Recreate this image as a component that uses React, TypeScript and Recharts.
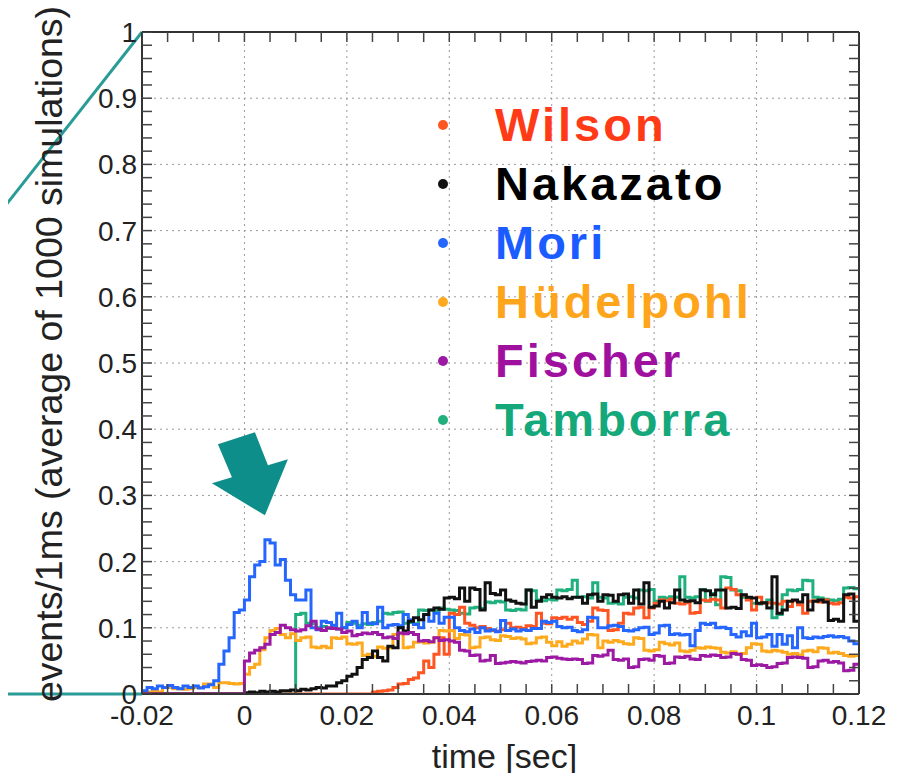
import React from 'react';
import {
  ComposedChart,
  Line,
  Scatter,
  XAxis,
  YAxis,
  CartesianGrid,
  Legend,
  ReferenceLine,
  ReferenceDot,
} from 'recharts';

const FONT = '"Liberation Sans", Arial, Helvetica, sans-serif';

// 1 ms bins starting at -0.02 s
const binStart = -0.02;
const binWidth = 0.001;

const wilson = [
  0, 0, 0, 0, 0, 0, 0, 0, 0, 0,
  0, 0, 0, 0, 0, 0, 0, 0, 0, 0,
  0, 0, 0, 0, 0, 0, 0, 0, 0, 0,
  0, 0, 0, 0, 0, 0, 0, 0, 0, 0,
  0, 0, 0, 0, 0, 0.003, 0.004, 0.005, 0.006, 0.010,
  0.015, 0.016, 0.022, 0.024, 0.032, 0.050, 0.040, 0.060, 0.085, 0.060,
  0.122, 0.120, 0.131, 0.107, 0.104, 0.100, 0.102, 0.099, 0.096, 0.095,
  0.097, 0.107, 0.100, 0.101, 0.099, 0.103, 0.102, 0.122, 0.107, 0.106,
  0.115, 0.114, 0.116, 0.113, 0.116, 0.108, 0.105, 0.110, 0.130, 0.127,
  0.126, 0.096, 0.097, 0.107, 0.122, 0.121, 0.130, 0.131, 0.115, 0.130,
  0.137, 0.142, 0.141, 0.143, 0.137, 0.136, 0.138, 0.122, 0.123, 0.142,
  0.141, 0.143, 0.142, 0.130, 0.160, 0.158, 0.150, 0.149, 0.142, 0.127,
  0.146, 0.137, 0.138, 0.137, 0.136, 0.140, 0.132, 0.141, 0.135, 0.122,
  0.140, 0.141, 0.139, 0.142, 0.137, 0.136, 0.138, 0.146, 0.145, 0.147,
];

const nakazato = [
  0, 0, 0, 0, 0, 0, 0, 0, 0, 0,
  0, 0, 0, 0, 0, 0, 0, 0, 0, 0,
  0.002, 0.003, 0.002, 0.004, 0.003, 0.004, 0.003, 0.005, 0.005, 0.006,
  0.005, 0.007, 0.006, 0.008, 0.010, 0.009, 0.012, 0.012, 0.017, 0.020,
  0.027, 0.030, 0.040, 0.052, 0.055, 0.065, 0.055, 0.050, 0.072, 0.070,
  0.100, 0.095, 0.110, 0.115, 0.112, 0.120, 0.127, 0.130, 0.128, 0.145,
  0.146, 0.144, 0.160, 0.140, 0.160, 0.158, 0.127, 0.168, 0.152, 0.150,
  0.157, 0.142, 0.140, 0.137, 0.136, 0.157, 0.131, 0.140, 0.146, 0.150,
  0.146, 0.145, 0.147, 0.144, 0.146, 0.146, 0.137, 0.150, 0.151, 0.140,
  0.150, 0.149, 0.140, 0.150, 0.151, 0.137, 0.157, 0.136, 0.168, 0.131,
  0.133, 0.140, 0.130, 0.138, 0.157, 0.142, 0.140, 0.141, 0.138, 0.157,
  0.156, 0.150, 0.157, 0.157, 0.130, 0.131, 0.129, 0.150, 0.146, 0.145,
  0.137, 0.138, 0.130, 0.177, 0.122, 0.127, 0.140, 0.142, 0.139, 0.150,
  0.127, 0.140, 0.142, 0.139, 0.111, 0.113, 0.110, 0.150, 0.151, 0.110,
];

const mori = [
  0.005, 0.010, 0.008, 0.012, 0.010, 0.013, 0.010, 0.008, 0.012, 0.010,
  0.012, 0.009, 0.011, 0.014, 0.020, 0.045, 0.065, 0.085, 0.123, 0.127,
  0.142, 0.177, 0.195, 0.200, 0.233, 0.228, 0.195, 0.203, 0.172, 0.150,
  0.142, 0.142, 0.157, 0.100, 0.097, 0.110, 0.108, 0.104, 0.122, 0.100,
  0.105, 0.110, 0.100, 0.123, 0.107, 0.106, 0.131, 0.100, 0.104, 0.105,
  0.103, 0.120, 0.112, 0.105, 0.100, 0.120, 0.110, 0.122, 0.107, 0.116,
  0.116, 0.100, 0.096, 0.094, 0.098, 0.093, 0.100, 0.095, 0.097, 0.094,
  0.111, 0.096, 0.098, 0.095, 0.097, 0.096, 0.099, 0.099, 0.110, 0.108,
  0.110, 0.102, 0.100, 0.101, 0.096, 0.094, 0.097, 0.116, 0.115, 0.100,
  0.100, 0.103, 0.104, 0.102, 0.096, 0.095, 0.097, 0.100, 0.101, 0.090,
  0.092, 0.103, 0.104, 0.090, 0.091, 0.089, 0.090, 0.073, 0.096, 0.107,
  0.105, 0.107, 0.100, 0.101, 0.099, 0.090, 0.086, 0.094, 0.088, 0.107,
  0.085, 0.086, 0.090, 0.072, 0.090, 0.075, 0.088, 0.070, 0.100, 0.085,
  0.084, 0.086, 0.085, 0.087, 0.088, 0.086, 0.087, 0.085, 0.080, 0.076,
];

const hudelpohl = [
  0.003, 0.003, 0.004, 0.003, 0.010, 0.010, 0.008, 0.008, 0.007, 0.008,
  0.010, 0.010, 0.015, 0.015, 0.010, 0.017, 0.017, 0.016, 0.015, 0.016,
  0.030, 0.040, 0.045, 0.067, 0.085, 0.096, 0.099, 0.090, 0.085, 0.091,
  0.081, 0.085, 0.086, 0.071, 0.070, 0.072, 0.070, 0.085, 0.084, 0.086,
  0.076, 0.075, 0.077, 0.058, 0.060, 0.057, 0.071, 0.069, 0.070, 0.090,
  0.091, 0.070, 0.071, 0.078, 0.079, 0.077, 0.078, 0.085, 0.096, 0.095,
  0.096, 0.084, 0.090, 0.089, 0.070, 0.071, 0.085, 0.086, 0.082, 0.081,
  0.088, 0.087, 0.084, 0.085, 0.083, 0.076, 0.077, 0.085, 0.086, 0.078,
  0.073, 0.079, 0.072, 0.075, 0.080, 0.077, 0.083, 0.090, 0.089, 0.070,
  0.080, 0.078, 0.081, 0.079, 0.076, 0.075, 0.085, 0.084, 0.066, 0.065,
  0.067, 0.078, 0.076, 0.074, 0.077, 0.065, 0.064, 0.066, 0.070, 0.069,
  0.071, 0.070, 0.069, 0.063, 0.062, 0.064, 0.060, 0.061, 0.070, 0.076,
  0.075, 0.065, 0.064, 0.066, 0.065, 0.063, 0.060, 0.061, 0.059, 0.065,
  0.066, 0.064, 0.070, 0.069, 0.062, 0.063, 0.061, 0.058, 0.057, 0.058,
];

const fischer = [
  0, 0, 0, 0, 0, 0, 0, 0, 0, 0,
  0, 0, 0, 0, 0, 0, 0, 0, 0, 0,
  0.050, 0.062, 0.066, 0.070, 0.075, 0.090, 0.093, 0.104, 0.100, 0.097,
  0.095, 0.097, 0.103, 0.110, 0.098, 0.096, 0.100, 0.099, 0.098, 0.093,
  0.095, 0.088, 0.090, 0.092, 0.091, 0.093, 0.090, 0.085, 0.086, 0.084,
  0.092, 0.091, 0.093, 0.090, 0.080, 0.081, 0.079, 0.085, 0.081, 0.082,
  0.080, 0.078, 0.066, 0.065, 0.058, 0.059, 0.050, 0.051, 0.058, 0.046,
  0.047, 0.048, 0.049, 0.048, 0.047, 0.049, 0.050, 0.051, 0.050, 0.055,
  0.056, 0.054, 0.053, 0.052, 0.053, 0.052, 0.046, 0.047, 0.058, 0.057,
  0.059, 0.066, 0.052, 0.051, 0.053, 0.040, 0.041, 0.052, 0.053, 0.051,
  0.058, 0.057, 0.046, 0.047, 0.056, 0.055, 0.057, 0.053, 0.052, 0.058,
  0.057, 0.059, 0.058, 0.055, 0.056, 0.061, 0.060, 0.052, 0.051, 0.043,
  0.044, 0.043, 0.040, 0.041, 0.046, 0.047, 0.055, 0.056, 0.055, 0.054,
  0.040, 0.041, 0.050, 0.051, 0.048, 0.049, 0.047, 0.035, 0.036, 0.045,
];

const tamborra = [
  0, 0, 0, 0, 0, 0, 0, 0, 0, 0,
  0, 0, 0, 0, 0, 0, 0, 0, 0, 0,
  0, 0, 0, 0, 0, 0, 0, 0, 0, 0,
  0.120, 0.122, 0.107, 0.106, 0.100, 0.102, 0.099, 0.101, 0.098, 0.100,
  0.108, 0.107, 0.104, 0.106, 0.105, 0.108, 0.110, 0.122, 0.121, 0.123,
  0.124, 0.107, 0.108, 0.106, 0.127, 0.126, 0.127, 0.125, 0.130, 0.128,
  0.127, 0.126, 0.122, 0.121, 0.130, 0.131, 0.129, 0.139, 0.138, 0.140,
  0.139, 0.127, 0.126, 0.128, 0.127, 0.157, 0.156, 0.142, 0.141, 0.143,
  0.142, 0.157, 0.156, 0.158, 0.172, 0.146, 0.147, 0.145, 0.168, 0.146,
  0.145, 0.137, 0.138, 0.136, 0.146, 0.147, 0.145, 0.157, 0.156, 0.158,
  0.140, 0.146, 0.145, 0.147, 0.146, 0.177, 0.146, 0.145, 0.147, 0.158,
  0.140, 0.152, 0.135, 0.177, 0.176, 0.157, 0.156, 0.146, 0.145, 0.137,
  0.136, 0.138, 0.142, 0.115, 0.120, 0.150, 0.157, 0.156, 0.158, 0.172,
  0.171, 0.146, 0.145, 0.143, 0.142, 0.141, 0.143, 0.160, 0.161, 0.159,
];

const xDomain = [-0.02, 0.12];
const yDomain = [0, 1];
const xTicks = [-0.02, 0, 0.02, 0.04, 0.06, 0.08, 0.1, 0.12];
const xMinorTicks = [
  -0.015, -0.01, -0.005, 0.005, 0.01, 0.015, 0.025, 0.03, 0.035, 0.045, 0.05, 0.055,
  0.065, 0.07, 0.075, 0.085, 0.09, 0.095, 0.105, 0.11, 0.115,
];
const yTicks = [0, 0.1, 0.2, 0.3, 0.4, 0.5, 0.6, 0.7, 0.8, 0.9, 1];
const yMinorTicks = [
  0.02, 0.04, 0.06, 0.08, 0.12, 0.14, 0.16, 0.18, 0.22, 0.24, 0.26, 0.28,
  0.32, 0.34, 0.36, 0.38, 0.42, 0.44, 0.46, 0.48, 0.52, 0.54, 0.56, 0.58,
  0.62, 0.64, 0.66, 0.68, 0.72, 0.74, 0.76, 0.78, 0.82, 0.84, 0.86, 0.88,
  0.92, 0.94, 0.96, 0.98,
];

// arrow pointing at the Mori peak, and the slide's zoom guide lines
const arrowTip = { t: 0.004, v: 0.27 };
const zoomGuideTop = [{ x: -0.02, y: 1 }, { x: -0.05, y: 0.705 }];
const zoomGuideBottom = [{ x: -0.02, y: 0 }, { x: -0.05, y: 0 }];

const names: Record<string, string> = {
  wilson: 'Wilson',
  nakazato: 'Nakazato',
  mori: 'Mori',
  hudelpohl: 'Hüdelpohl',
  fischer: 'Fischer',
  tamborra: 'Tamborra',
};
const legendOrder = ['wilson', 'nakazato', 'mori', 'hudelpohl', 'fischer', 'tamborra'];
const drawOrder = ['tamborra', 'wilson', 'hudelpohl', 'mori', 'nakazato', 'fischer'];

const lineColors: Record<string, string> = {
  wilson: '#ff5522',
  nakazato: '#111111',
  mori: '#2566ff',
  hudelpohl: '#ffaa1e',
  fischer: '#9c1aa3',
  tamborra: '#1fb07e',
};
const textColors: Record<string, string> = {
  wilson: '#ff3b17',
  nakazato: '#000000',
  mori: '#1a5cff',
  hudelpohl: '#ffa51c',
  fischer: '#a0109f',
  tamborra: '#14a87a',
};

const seriesValues: Record<string, number[]> = { wilson, nakazato, mori, hudelpohl, fischer, tamborra };

const rows = wilson.map((_, i) => {
  const row: Record<string, number> = { t: Number((binStart + i * binWidth).toFixed(3)) };
  for (const k of legendOrder) row[k] = seriesValues[k][i];
  return row;
});
// closing edge so the last bin gets its full width
const lastRow: Record<string, number> = { t: xDomain[1] };
for (const k of legendOrder) lastRow[k] = seriesValues[k][seriesValues[k].length - 1];
rows.push(lastRow);

// anchor points for the inward tick marks on the four frame sides
const allXTicks = [...xTicks, ...xMinorTicks];
const allYTicks = [...yTicks, ...yMinorTicks];
const bottomMarks = allXTicks.map((t) => ({ t, v: yDomain[0] }));
const topMarks = allXTicks.map((t) => ({ t, v: yDomain[1] }));
const leftMarks = allYTicks.map((v) => ({ t: xDomain[0], v }));
const rightMarks = allYTicks.map((v) => ({ t: xDomain[1], v }));

const TICK = 10;
const markStyle = { stroke: '#444', strokeWidth: 1.5 };
const markUp = (p: any) => <line x1={p.cx} y1={p.cy} x2={p.cx} y2={p.cy - TICK} {...markStyle} />;
const markDown = (p: any) => <line x1={p.cx} y1={p.cy} x2={p.cx} y2={p.cy + TICK} {...markStyle} />;
const markRight = (p: any) => <line x1={p.cx} y1={p.cy} x2={p.cx + TICK} y2={p.cy} {...markStyle} />;
const markLeft = (p: any) => <line x1={p.cx} y1={p.cy} x2={p.cx - TICK} y2={p.cy} {...markStyle} />;

const tickStyle = { fontSize: 28, fill: '#222', fontFamily: FONT };
const frame = { stroke: '#333', strokeWidth: 2 };

const YTitle = (props: any) => {
  const vb = props.viewBox ?? { x: 0, y: 32, width: 142, height: 662 };
  const x = vb.x + 62;
  const y = vb.y + vb.height / 2 - 9;
  return (
    <text
      x={x}
      y={y}
      transform={`rotate(-90 ${x} ${y})`}
      textAnchor="middle"
      fontSize={37.5}
      fill="#222"
      fontFamily={FONT}
    >
      events/1ms (average of 1000 simulations)
    </text>
  );
};

const XTitle = (props: any) => {
  const vb = props.viewBox ?? { x: 142, y: 694, width: 717, height: 87 };
  const x = vb.x + vb.width / 2 + 4;
  const y = vb.y + vb.height - 13;
  return (
    <text x={x} y={y} textAnchor="middle" fontSize={34} fill="#222" fontFamily={FONT}>
      time [sec]
    </text>
  );
};

const arrowShape = (p: any) => {
  const { cx, cy } = p;
  const outline = [[0, 0], [23, -56], [3, -50], [-10, -83], [-47, -71], [-33, -38], [-53, -32]];
  const pts = outline.map(([dx, dy]) => `${cx + dx},${cy + dy}`).join(' ');
  return <polygon points={pts} fill="#0e8e8a" />;
};

const LegendBox = () => (
  <div style={{ fontFamily: FONT, fontWeight: 700 }}>
    {legendOrder.map((k) => (
      <div key={k} style={{ display: 'flex', alignItems: 'center', height: 59 }}>
        <span
          style={{
            flexShrink: 0,
            width: 10,
            height: 10,
            borderRadius: '50%',
            background: lineColors[k],
            marginLeft: 8,
            marginRight: 47,
          }}
        />
        <span style={{ color: textColors[k], fontSize: 47, letterSpacing: 3, lineHeight: '59px', whiteSpace: 'nowrap' }}>
          {names[k]}
        </span>
      </div>
    ))}
  </div>
);

export default function App() {
  return (
    <div style={{ margin: -8, width: 912, height: 781, background: '#fff' }}>
      <ComposedChart width={912} height={781} data={rows} margin={{ top: 32, right: 53, bottom: 0, left: 0 }}>
        <CartesianGrid xAxisId="main" yAxisId="main" stroke="#9a9a9a" strokeDasharray="2 4" />

        <XAxis
          xAxisId="main"
          type="number"
          dataKey="t"
          domain={xDomain}
          ticks={xTicks}
          interval={0}
          allowDataOverflow
          height={87}
          tickLine={false}
          tickSize={6}
          tickMargin={5}
          axisLine={frame}
          tick={tickStyle}
          label={{ content: XTitle }}
        />
        <YAxis
          yAxisId="main"
          type="number"
          domain={yDomain}
          ticks={yTicks}
          interval={0}
          allowDataOverflow
          width={142}
          tickLine={false}
          tickSize={3}
          tickMargin={2}
          axisLine={frame}
          tick={tickStyle}
          label={{ content: YTitle }}
        />

        {drawOrder.map((k) => (
          <Line
            key={k}
            xAxisId="main"
            yAxisId="main"
            type="stepAfter"
            dataKey={k}
            name={names[k]}
            stroke={lineColors[k]}
            strokeWidth={3}
            dot={false}
            activeDot={false}
            isAnimationActive={false}
          />
        ))}

        {/* inward tick marks on all four sides */}
        <Scatter xAxisId="main" yAxisId="main" data={bottomMarks} dataKey="v" shape={markUp} legendType="none" isAnimationActive={false} />
        <Scatter xAxisId="main" yAxisId="main" data={topMarks} dataKey="v" shape={markDown} legendType="none" isAnimationActive={false} />
        <Scatter xAxisId="main" yAxisId="main" data={leftMarks} dataKey="v" shape={markRight} legendType="none" isAnimationActive={false} />
        <Scatter xAxisId="main" yAxisId="main" data={rightMarks} dataKey="v" shape={markLeft} legendType="none" isAnimationActive={false} />

        {/* frame: top and right edges */}
        <ReferenceLine xAxisId="main" yAxisId="main" y={yDomain[1]} ifOverflow="visible" stroke="#333" strokeWidth={2} />
        <ReferenceLine xAxisId="main" yAxisId="main" x={xDomain[1]} ifOverflow="visible" stroke="#333" strokeWidth={2} />

        <ReferenceLine xAxisId="main" yAxisId="main" ifOverflow="visible" segment={zoomGuideTop}
          stroke="#2a9c98" strokeWidth={3} />
        <ReferenceLine xAxisId="main" yAxisId="main" ifOverflow="visible" segment={zoomGuideBottom}
          stroke="#2a9c98" strokeWidth={3} />
        <ReferenceDot xAxisId="main" yAxisId="main" x={arrowTip.t} y={arrowTip.v} ifOverflow="visible"
          shape={arrowShape} />

        <Legend
          layout="vertical"
          align="center"
          verticalAlign="middle"
          content={LegendBox}
          wrapperStyle={{ left: 430, top: 95, width: 400, height: 360, right: 'auto', bottom: 'auto' }}
        />
      </ComposedChart>
    </div>
  );
}
